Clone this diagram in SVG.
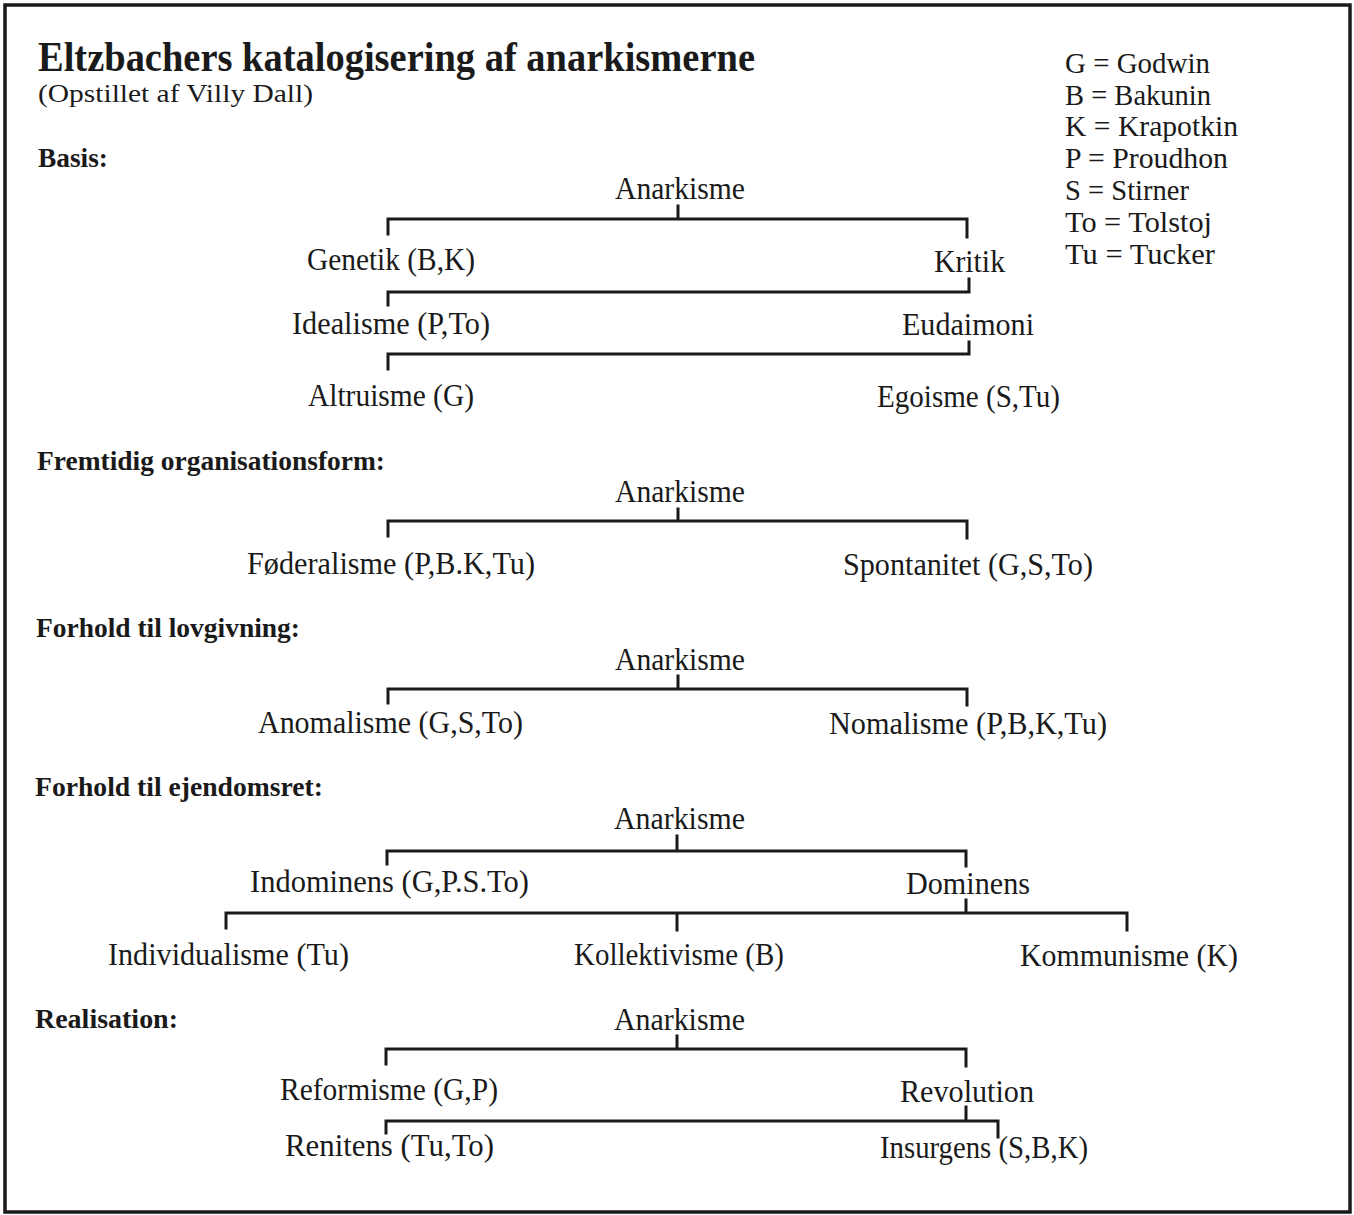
<svg xmlns="http://www.w3.org/2000/svg" width="1354" height="1215" viewBox="0 0 1354 1215">
<style>
text{font-family:"Liberation Serif","Times New Roman",serif;fill:#1a1a1a}
.t{font-size:43px;font-weight:bold}
.s{font-size:25px}
.h{font-size:27px;font-weight:bold}
.n{font-size:31px}
.l{font-size:29px}
.c{fill:none;stroke:#1a1a1a;stroke-width:3;stroke-linecap:square}
</style>
<rect x="5" y="5" width="1345" height="1207" fill="#fff" stroke="#1a1a1a" stroke-width="3.5"/>
<g id="title">
<text class="t" x="38" y="71" textLength="717" lengthAdjust="spacingAndGlyphs">Eltzbachers katalogisering af anarkismerne</text>
<text class="s" x="38" y="102" textLength="275" lengthAdjust="spacingAndGlyphs">(Opstillet af Villy Dall)</text>
</g>
<g id="legend">
<text class="l" x="1065" y="73" textLength="145" lengthAdjust="spacingAndGlyphs">G = Godwin</text>
<text class="l" x="1065" y="105" textLength="146" lengthAdjust="spacingAndGlyphs">B = Bakunin</text>
<text class="l" x="1065" y="136" textLength="173" lengthAdjust="spacingAndGlyphs">K = Krapotkin</text>
<text class="l" x="1065" y="168" textLength="163" lengthAdjust="spacingAndGlyphs">P = Proudhon</text>
<text class="l" x="1065" y="200" textLength="124" lengthAdjust="spacingAndGlyphs">S = Stirner</text>
<text class="l" x="1065" y="232" textLength="147" lengthAdjust="spacingAndGlyphs">To = Tolstoj</text>
<text class="l" x="1065" y="264" textLength="150" lengthAdjust="spacingAndGlyphs">Tu = Tucker</text>
</g>
<g id="headings">
<text class="h" x="38" y="167" textLength="70" lengthAdjust="spacingAndGlyphs">Basis:</text>
<text class="h" x="37" y="470" textLength="348" lengthAdjust="spacingAndGlyphs">Fremtidig organisationsform:</text>
<text class="h" x="36" y="637" textLength="264" lengthAdjust="spacingAndGlyphs">Forhold til lovgivning:</text>
<text class="h" x="35" y="796" textLength="288" lengthAdjust="spacingAndGlyphs">Forhold til ejendomsret:</text>
<text class="h" x="35" y="1028" textLength="143" lengthAdjust="spacingAndGlyphs">Realisation:</text>
</g>
<g id="connectors">
<path class="c" d="M678 206V219M388 234V219H967V237"/>
<path class="c" d="M969 279V292H388V305"/>
<path class="c" d="M969 342V354H388V369"/>
<path class="c" d="M678 509V521M388 536V521H967V538"/>
<path class="c" d="M678 676V689M388 703V689H967V705"/>
<path class="c" d="M677 836V851M387 864V851H966V866"/>
<path class="c" d="M966 900V913M226 928V913H1127V930M677 913V930"/>
<path class="c" d="M677 1036V1049M386 1064V1049H966V1066"/>
<path class="c" d="M966 1107V1121M386 1133V1121H998V1137"/>
</g>
<g id="basis-anarkisme"><text class="n" x="615" y="199" textLength="130" lengthAdjust="spacingAndGlyphs">Anarkisme</text></g>
<g id="genetik"><text class="n" x="307" y="270" textLength="168" lengthAdjust="spacingAndGlyphs">Genetik (B,K)</text></g>
<g id="kritik"><text class="n" x="934" y="272" textLength="71" lengthAdjust="spacingAndGlyphs">Kritik</text></g>
<g id="idealisme"><text class="n" x="292" y="334" textLength="198" lengthAdjust="spacingAndGlyphs">Idealisme (P,To)</text></g>
<g id="eudaimoni"><text class="n" x="902" y="335" textLength="132" lengthAdjust="spacingAndGlyphs">Eudaimoni</text></g>
<g id="altruisme"><text class="n" x="308" y="406" textLength="166" lengthAdjust="spacingAndGlyphs">Altruisme (G)</text></g>
<g id="egoisme"><text class="n" x="877" y="407" textLength="183" lengthAdjust="spacingAndGlyphs">Egoisme (S,Tu)</text></g>
<g id="org-anarkisme"><text class="n" x="615" y="502" textLength="130" lengthAdjust="spacingAndGlyphs">Anarkisme</text></g>
<g id="foederalisme"><text class="n" x="247" y="574" textLength="288" lengthAdjust="spacingAndGlyphs">Føderalisme (P,B.K,Tu)</text></g>
<g id="spontanitet"><text class="n" x="843" y="575" textLength="250" lengthAdjust="spacingAndGlyphs">Spontanitet (G,S,To)</text></g>
<g id="lov-anarkisme"><text class="n" x="615" y="670" textLength="130" lengthAdjust="spacingAndGlyphs">Anarkisme</text></g>
<g id="anomalisme"><text class="n" x="258" y="733" textLength="265" lengthAdjust="spacingAndGlyphs">Anomalisme (G,S,To)</text></g>
<g id="nomalisme"><text class="n" x="829" y="734" textLength="278" lengthAdjust="spacingAndGlyphs">Nomalisme (P,B,K,Tu)</text></g>
<g id="ejd-anarkisme"><text class="n" x="614" y="829" textLength="131" lengthAdjust="spacingAndGlyphs">Anarkisme</text></g>
<g id="indominens"><text class="n" x="250" y="892" textLength="279" lengthAdjust="spacingAndGlyphs">Indominens (G,P.S.To)</text></g>
<g id="dominens"><text class="n" x="906" y="894" textLength="124" lengthAdjust="spacingAndGlyphs">Dominens</text></g>
<g id="individualisme"><text class="n" x="108" y="965" textLength="241" lengthAdjust="spacingAndGlyphs">Individualisme (Tu)</text></g>
<g id="kollektivisme"><text class="n" x="574" y="965" textLength="210" lengthAdjust="spacingAndGlyphs">Kollektivisme (B)</text></g>
<g id="kommunisme"><text class="n" x="1020" y="966" textLength="218" lengthAdjust="spacingAndGlyphs">Kommunisme (K)</text></g>
<g id="real-anarkisme"><text class="n" x="614" y="1030" textLength="131" lengthAdjust="spacingAndGlyphs">Anarkisme</text></g>
<g id="reformisme"><text class="n" x="280" y="1100" textLength="218" lengthAdjust="spacingAndGlyphs">Reformisme (G,P)</text></g>
<g id="revolution"><text class="n" x="900" y="1102" textLength="134" lengthAdjust="spacingAndGlyphs">Revolution</text></g>
<g id="renitens"><text class="n" x="285" y="1156" textLength="209" lengthAdjust="spacingAndGlyphs">Renitens (Tu,To)</text></g>
<g id="insurgens"><text class="n" x="880" y="1158" textLength="208" lengthAdjust="spacingAndGlyphs">Insurgens (S,B,K)</text></g>
</svg>
